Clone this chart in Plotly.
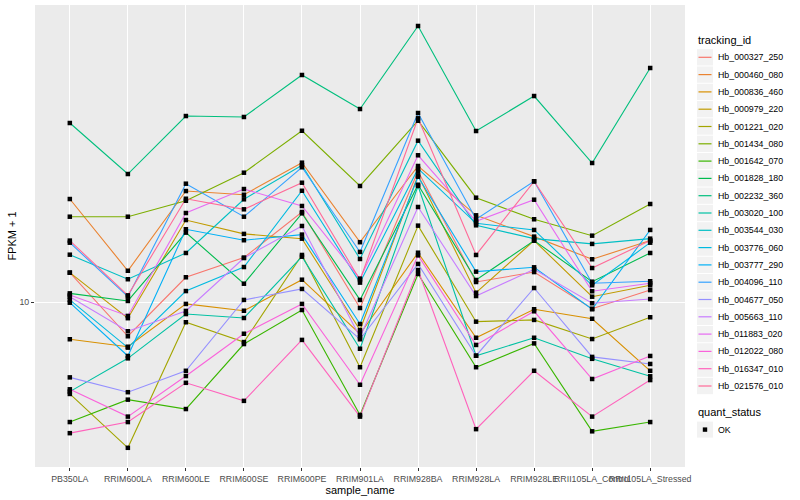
import math
import plotly.graph_objects as go

categories = ["PB350LA", "RRIM600LA", "RRIM600LE", "RRIM600SE", "RRIM600PE", "RRIM901LA",
              "RRIM928BA", "RRIM928LA", "RRIM928LE", "RRII105LA_Control", "RRII105LA_Stressed"]

tracking_ids = ["Hb_000327_250", "Hb_000460_080", "Hb_000836_460", "Hb_000979_220", "Hb_001221_020",
                "Hb_001434_080", "Hb_001642_070", "Hb_001828_180", "Hb_002232_360", "Hb_003020_100",
                "Hb_003544_030", "Hb_003776_060", "Hb_003777_290", "Hb_004096_110", "Hb_004677_050",
                "Hb_005663_110", "Hb_011883_020", "Hb_012022_080", "Hb_016347_010", "Hb_021576_010"]

# FPKM + 1 values per tracking id (order of categories)
Hb_000327_250 = [11.84, 8.21, 11.53, 12.91, 16.79, 9.66, 21.22, 11.22, 11.88, 9.62, 10.71]
Hb_000460_080 = [18.09, 11.97, 18.94, 18.54, 22.30, 14.11, 21.88, 16.47, 14.57, 12.79, 14.24]
Hb_000836_460 = [8.07, 7.73, 9.89, 9.51, 11.37, 8.32, 13.28, 8.14, 9.59, 9.08, 6.73]
Hb_000979_220 = [11.84, 9.11, 16.03, 14.80, 14.40, 8.51, 20.73, 10.55, 14.24, 10.31, 11.01]
Hb_001221_020 = [5.89, 4.32, 8.90, 7.94, 13.11, 6.87, 15.52, 8.93, 9.02, 8.08, 9.16]
Hb_001434_080 = [16.34, 16.34, 17.91, 21.05, 26.80, 19.50, 28.39, 18.23, 16.10, 14.65, 17.58]
Hb_001642_070 = [5.01, 5.70, 5.40, 7.85, 9.55, 5.22, 11.75, 6.87, 7.88, 4.75, 5.01]
Hb_001828_180 = [10.51, 10.06, 14.91, 11.11, 16.66, 10.12, 19.64, 11.35, 14.24, 11.24, 13.26]
Hb_002232_360 = [28.02, 20.89, 29.17, 29.01, 36.94, 30.37, 48.98, 26.76, 32.73, 22.26, 38.46]
Hb_003020_100 = [5.97, 7.23, 9.33, 9.12, 12.98, 7.64, 19.50, 7.34, 8.14, 7.21, 6.52]
Hb_003544_030 = [13.13, 11.40, 13.26, 18.06, 21.97, 12.81, 25.31, 15.55, 14.40, 13.97, 14.40]
Hb_003776_060 = [10.12, 7.69, 10.65, 12.23, 18.97, 11.18, 21.54, 15.73, 15.14, 11.01, 14.07]
Hb_003777_290 = [9.96, 7.33, 15.20, 14.27, 14.74, 8.81, 20.57, 11.91, 12.21, 9.59, 15.14]
Hb_004096_110 = [14.07, 10.31, 19.76, 16.34, 21.72, 13.34, 29.68, 16.10, 20.03, 11.14, 11.27]
Hb_004677_050 = [6.48, 5.95, 6.73, 10.12, 10.78, 8.07, 12.45, 7.34, 10.84, 7.29, 7.00]
Hb_005663_110 = [10.31, 8.45, 9.50, 12.88, 15.49, 8.16, 17.28, 10.35, 12.07, 9.93, 10.17]
Hb_011883_020 = [10.41, 9.23, 16.69, 19.16, 17.38, 11.44, 23.27, 15.91, 18.02, 10.64, 11.14]
Hb_012022_080 = [6.05, 5.17, 6.53, 8.33, 9.89, 6.21, 13.08, 7.81, 9.48, 6.42, 7.33]
Hb_016347_010 = [4.70, 5.01, 6.28, 5.66, 8.04, 5.17, 12.02, 4.81, 6.73, 5.17, 6.38]
Hb_021576_010 = [14.24, 10.39, 18.12, 17.05, 19.87, 11.35, 28.79, 13.11, 20.03, 12.16, 14.24]

series_values = [Hb_000327_250, Hb_000460_080, Hb_000836_460, Hb_000979_220, Hb_001221_020,
                 Hb_001434_080, Hb_001642_070, Hb_001828_180, Hb_002232_360, Hb_003020_100,
                 Hb_003544_030, Hb_003776_060, Hb_003777_290, Hb_004096_110, Hb_004677_050,
                 Hb_005663_110, Hb_011883_020, Hb_012022_080, Hb_016347_010, Hb_021576_010]

quant_status = "OK"
y_tick_vals = [10]
y_tick_text = ["10"]


def hcl_hex(h, c=100.0, l=65.0):
    hr = math.radians(h)
    u = c * math.cos(hr)
    v = c * math.sin(hr)
    Xn, Yn, Zn = 95.047, 100.0, 108.883
    Y = Yn * ((l + 16) / 116) ** 3
    den = Xn + 15 * Yn + 3 * Zn
    un, vn = 4 * Xn / den, 9 * Yn / den
    up = u / (13 * l) + un
    vp = v / (13 * l) + vn
    X = 9.0 * Y * up / (4 * vp)
    Z = -X / 3 - 5 * Y + 3 * Y / vp
    X, Y, Z = X / 100, Y / 100, Z / 100
    r = 3.240479 * X - 1.537150 * Y - 0.498535 * Z
    g = -0.969256 * X + 1.875992 * Y + 0.041556 * Z
    b = 0.055648 * X - 0.204043 * Y + 1.057311 * Z

    def gam(t):
        t = 12.92 * t if t <= 0.0031308 else 1.055 * t ** (1 / 2.4) - 0.055
        return int(round(min(max(t, 0), 1) * 255))
    return "#%02X%02X%02X" % (gam(r), gam(g), gam(b))


n = len(tracking_ids)
colors = [hcl_hex(15 + 360 * i / n) for i in range(n)]

FONT = "Liberation Sans, Arial, Helvetica, sans-serif"
W, H = 800, 500
ML, MR, MT, MB = 35, 115, 5, 33
PW, PH = W - ML - MR, H - MT - MB


def px(xp):
    return (xp - ML) / PW


def py(yp):
    return 1 - (yp - MT) / PH


fig = go.Figure()

for i, (tid, vals) in enumerate(zip(tracking_ids, series_values)):
    fig.add_trace(go.Scatter(
        x=categories, y=vals, mode="lines", name=tid,
        line=dict(color=colors[i], width=1.1),
        showlegend=False, hoverinfo="skip"))

all_x = [c for vals in series_values for c in categories]
all_y = [v for vals in series_values for v in vals]
fig.add_trace(go.Scatter(
    x=all_x, y=all_y, mode="markers", name=quant_status,
    marker=dict(symbol="square", size=4.5, color="black", line=dict(width=0)),
    showlegend=False, hoverinfo="skip"))

# ---- ggplot-style legends (decoration) ----
shapes = []
annotations = []
KEY_L, KEY_R = 697, 713
KEY_H = 17.3
FIRST_Y = 57.3
annotations.append(dict(text="tracking_id", x=px(696), y=py(40), xref="paper", yref="paper",
                        xanchor="left", yanchor="middle", showarrow=False,
                        font=dict(size=11, color="black")))
for i, tid in enumerate(tracking_ids):
    cy = FIRST_Y + KEY_H * i
    shapes.append(dict(type="rect", xref="paper", yref="paper",
                       x0=px(KEY_L), x1=px(KEY_R), y0=py(cy - KEY_H / 2 + 0.5), y1=py(cy + KEY_H / 2 - 0.5),
                       fillcolor="#F2F2F2", line=dict(width=0), layer="above"))
    shapes.append(dict(type="line", xref="paper", yref="paper",
                       x0=px(KEY_L + 1.5), x1=px(KEY_R - 1.5), y0=py(cy), y1=py(cy),
                       line=dict(color=colors[i], width=1.2), layer="above"))
    annotations.append(dict(text=tid, x=px(716), y=py(cy), xref="paper", yref="paper",
                            xanchor="left", yanchor="middle", showarrow=False,
                            font=dict(size=8.8, color="black")))

annotations.append(dict(text="quant_status", x=px(696), y=py(412.3), xref="paper", yref="paper",
                        xanchor="left", yanchor="middle", showarrow=False,
                        font=dict(size=11, color="black")))
qy = 429.6
shapes.append(dict(type="rect", xref="paper", yref="paper",
                   x0=px(KEY_L), x1=px(KEY_R), y0=py(qy - 8), y1=py(qy + 8),
                   fillcolor="#F2F2F2", line=dict(width=0), layer="above"))
shapes.append(dict(type="rect", xref="paper", yref="paper",
                   x0=px(702.8), x1=px(707.2), y0=py(qy - 2.2), y1=py(qy + 2.2),
                   fillcolor="black", line=dict(width=0), layer="above"))
annotations.append(dict(text=quant_status, x=px(716), y=py(qy), xref="paper", yref="paper",
                        xanchor="left", yanchor="middle", showarrow=False,
                        font=dict(size=8.8, color="black")))

fig.update_layout(
    width=W, height=H,
    margin=dict(l=ML, r=MR, t=MT, b=MB),
    paper_bgcolor="white", plot_bgcolor="#EBEBEB",
    font=dict(family=FONT, size=11, color="black"),
    showlegend=False,
    shapes=shapes, annotations=annotations,
    xaxis=dict(
        type="category", categoryorder="array", categoryarray=categories,
        range=[-0.6, len(categories) - 0.4],
        showgrid=True, gridcolor="white", gridwidth=1,
        ticks="outside", ticklen=3, tickcolor="#333333", tickwidth=1,
        tickangle=0, tickfont=dict(size=8.8, color="#4D4D4D"),
        title=dict(text="sample_name", font=dict(size=11), standoff=2),
        zeroline=False, showline=False, automargin=False),
    yaxis=dict(
        type="log", range=[0.5875, 1.7425],
        tickvals=y_tick_vals, ticktext=y_tick_text,
        showgrid=True, gridcolor="white", gridwidth=1,
        ticks="outside", ticklen=3, tickcolor="#333333", tickwidth=1,
        tickfont=dict(size=8.8, color="#4D4D4D"),
        title=dict(text="FPKM + 1", font=dict(size=11), standoff=0),
        zeroline=False, showline=False, automargin=False),
)

fig.write_html("out.html", config={"displayModeBar": False},
               post_script="document.body.style.margin='0px';document.body.style.padding='0px';")
